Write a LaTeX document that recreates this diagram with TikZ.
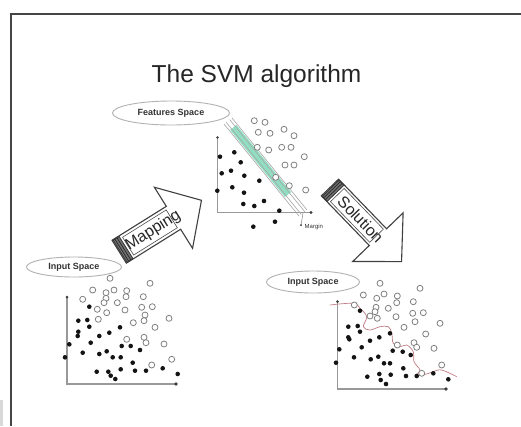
\documentclass[tikz,border=0pt]{standalone}
\usepackage{fontspec}
\setmainfont{Liberation Sans}
\usetikzlibrary{shapes.geometric,calc}
\definecolor{framecol}{HTML}{454545}
\definecolor{bandgreen}{HTML}{7ED9B9}
\definecolor{curvecol}{HTML}{C27C84}
\begin{document}
\begin{tikzpicture}[x=1pt,y=-1pt,
  blackdot/.style={fill=black!92, draw=none},
  opendot/.style={draw=black!50, line width=0.8pt, fill=white},
  axisline/.style={draw=black!40, line width=1.1pt},
  axisend/.style={fill=black!75, draw=none},
  spacelabel/.style={ellipse, draw=black!30, line width=0.9pt, inner sep=0pt,
    font=\bfseries\fontsize{9}{10}\selectfont, text=black!80},
  blockarrow/.style={draw=black!75, line width=1.1pt, fill=white, line join=miter},
  arrowtext/.style={font=\fontsize{16}{18}\selectfont, text=black!85, inner sep=0pt},
  hatch/.style={fill=black!55, draw=black!80, line width=0.8pt},
  bandline/.style={draw=black!35, line width=0.6pt},
]
\useasboundingbox (0,0) rectangle (521,426);
\fill[white] (0,0) rectangle (521,426);
% stray mark at bottom left
\fill[black!15] (0,400) rectangle (3,426);
% frame
\draw[framecol, line width=2pt] (10.5,426) -- (10.5,13.5) -- (521,13.5);

% title
\node[anchor=base, font=\fontsize{24.5}{28}\selectfont, text=black!85] (title) at (256.5,82) {The SVM algorithm};

% ---------------- Plot 1: input space ----------------
\node[spacelabel, minimum width=95pt, minimum height=20pt] (in1) at (74,267) {Input Space};
\coordinate (o1) at (67,384);
\coordinate (y1) at (67,297);
\coordinate (x1) at (176,384);
\draw[axisline] (y1) -- (o1) -- (x1);
\fill[axisend] (y1) circle[radius=1.5pt];
\fill[axisend] (x1) circle[radius=1.8pt];
\foreach \x/\y in {110/278.3,150/283.3,92.7/290,106/292.7,114/290,126.7/290.7,82.7/299.3,106/298.3,104/302.7,117.3/302.7,126/296.7,143.3/296.7,97.3/309.3,106.7/312.7,125/310,141.7/307.3,152.3/306.7,145/315,98.3/319.3,133.3/322.7,144/320.7,169/318.3,155/327.3,126.7/339.3,144/337.3,146/342.7,164/344,171.7/359.3,151.7/365}
  \draw[opendot] (\x,\y) circle[radius=3pt];
\foreach \x/\y in {89.3/306.7,78.3/320.7,87.3/320,89.3/326.7,78.3/331.7,77.7/336,69.3/344.3,65/357.3,82.7/352.7,90.7/342.7,99.3/336,109.3/332.7,120/327.3,99.3/354,106.7/351.3,112.7/357.3,120.7/357.3,121.7/346,130.7/346,140/350,132.7/362.7,96.7/371.7,108.3/371.7,110.7/375.7,115.3/379,120.7/369.3,135/370.7,146/370.7,162.7/368.3,177.7/374}
  \fill[blackdot] (\x,\y) circle[radius=2.3pt];

% ---------------- Plot 2: features space ----------------
\node[spacelabel, minimum width=117pt, minimum height=24pt] (fs) at (171,113) {Features Space};
\coordinate (o2) at (217.5,212.5);
\coordinate (y2) at (217.5,137.5);
\coordinate (x2) at (311,212.5);
\draw[axisline] (y2) -- (o2) -- (x2);
\fill[axisend] (y2) circle[radius=1.4pt];
\fill[axisend] (x2) circle[radius=1.6pt];
% margin band
\coordinate (bs) at (228,121);
\coordinate (be) at (303,213);
\fill[bandgreen, opacity=0.85]
  ($(bs)!0.07!(be)+(-3.1,2.5)$) -- ($(bs)!0.07!(be)+(3.1,-2.5)$) -- ($(bs)!0.8!(be)+(3.1,-2.5)$) -- ($(bs)!0.8!(be)+(-3.1,2.5)$) -- cycle;
\foreach \d in {-5,-2.2,2.2,5}
  \draw[bandline] ($(bs)+(\d*0.775,-\d*0.632)$) -- ($(be)+(\d*0.775,-\d*0.632)$);
\coordinate (mp) at (301,225);
\draw[black!50, line width=0.5pt] (be) -- (mp);
\fill[black!80] (mp) circle[radius=1pt];
\node[anchor=west, font=\fontsize{6}{7}\selectfont, text=black!80, inner sep=1pt] (margin) at (303.5,227) {Margin};
\foreach \x/\y in {254.3/120.7,265/122.3,258.3/132.3,270/133.3,284/129.3,294/135.7,257.3/147.3,268.7/150,281.7/147.3,291/147.3,304.3/156.7,285/165,294/165,289.3/185.7,305.7/190,275.7/177.3}
  \draw[opendot] (\x,\y) circle[radius=3pt];
\foreach \x/\y in {234.3/152.3,220/156.7,240.7/162.3,221.7/173.3,231/170.7,244.3/175.7,217.3/190.7,232.3/187.3,244/192.7,243.3/204,254.3/206,264/201,259.3/180.7,279.3/210.7,253.3/226.7,275/221.7}
  \fill[blackdot] (\x,\y) circle[radius=2.3pt];

% ---------------- Plot 3: solution ----------------
\node[spacelabel, minimum width=93pt, minimum height=22pt] (in3) at (313,282) {Input Space};
\coordinate (o3) at (337.5,389);
\coordinate (y3) at (337.5,301.5);
\coordinate (x3) at (446,389);
\draw[axisline] (y3) -- (o3) -- (x3);
\fill[axisend] (y3) circle[radius=1.5pt];
\fill[axisend] (x3) circle[radius=1.8pt];
\draw[curvecol, line width=0.7pt, smooth, tension=0.6] plot coordinates {(330,305) (353.3,303.3) (360,308.3) (366.7,316.7) (363.3,326.7) (370,330) (380,326.7) (388.3,326.7) (391.7,333.3) (393.3,343.3) (400,346.7) (406.7,345) (413.3,351.7) (414,361.7) (420,370) (416.7,375) (426.7,374) (433.3,371.7) (441.7,370) (456.7,376.7)};
\foreach \x/\y in {380/283.3,420/288.3,363.3/295,376.7/298.3,384/294,397.3/296,354.3/305,376/307.3,375/311.7,388.3/308.3,396.7/302.7,413.3/301.7,370/316,377.3/318.3,396/316.7,412.7/313.3,423.3/312.7,415/321.7,404/327.3,440/323.3,425.7/334,397.3/345,414/342.7,416.7/347.3,434/348.3,441.7/365,421.7/373.3}
  \draw[opendot] (\x,\y) circle[radius=3pt];
\foreach \x/\y in {360/310.7,348.3/326.7,357.7/326,360/331.7,348.3/337.3,349.3/339.3,339.3/349.3,336/362.7,354/357.3,361.7/347.3,370/340.7,379.3/337.3,390/333.3,392.7/350.7,402.7/351.7,410.7/355,370.7/359.3,378.3/356.7,384/363.3,390/363.3,403.3/368.3,406/376,367.3/376.7,379.3/374,380.7/380,386/384,390.7/374.7,416.7/376,433.3/373.3,448.3/379.3}
  \fill[blackdot] (\x,\y) circle[radius=2.3pt];

% ---------------- Mapping arrow ----------------
\begin{scope}[shift={(119.2,251.7)}, rotate=32]
  \draw[blockarrow] (0,-13.5) -- (64,-13.5) -- (64,-36) -- (97,0) -- (64,36) -- (64,13.5) -- (0,13.5) -- cycle;
  \draw[hatch] (1,-13) rectangle (8,13);
  \foreach \t in {3,5.5} \draw[black!85, line width=0.7pt] (\t,-13) -- (\t,13);
  \draw[black!70, line width=0.6pt] (10.5,-10.5) rectangle (62,10.5);
  \node[arrowtext, rotate=32] (maptext) at (40,0) {Mapping};
\end{scope}

% ---------------- Solution arrow ----------------
\begin{scope}[shift={(330,187.5)}, rotate=-46]
  \draw[blockarrow] (0,-12) -- (69,-12) -- (69,-35) -- (103,0) -- (69,35) -- (69,12) -- (0,12) -- cycle;
  \draw[hatch] (1,-11.5) rectangle (8,11.5);
  \foreach \t in {3,5.5} \draw[black!85, line width=0.7pt] (\t,-11.5) -- (\t,11.5);
  \draw[black!70, line width=0.6pt] (10.5,-9.5) rectangle (67,9.5);
  \node[arrowtext, rotate=-46] (soltext) at (44,0) {Solution};
\end{scope}
\end{tikzpicture}
\end{document}
